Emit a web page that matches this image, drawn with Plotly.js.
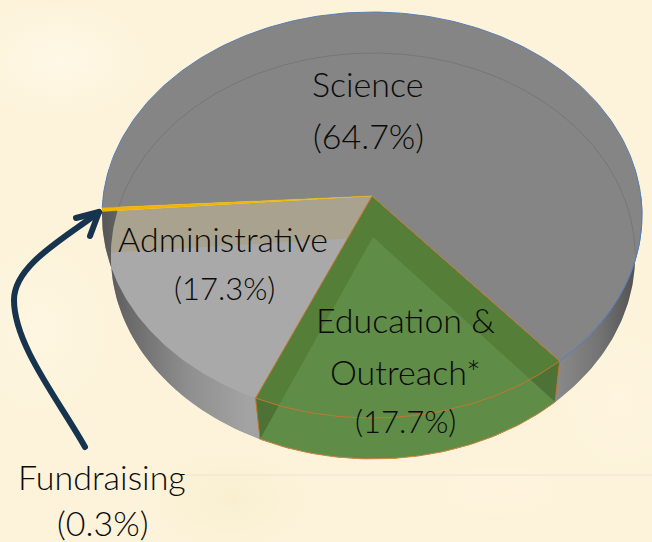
<!DOCTYPE html>
<html>
<head>
<meta charset="utf-8">
<script src="https://cdn.plot.ly/plotly-3.0.1.min.js"></script>
<style>
html,body{margin:0;padding:0;width:652px;height:542px;overflow:hidden;background-color:#fcf3da;
background-image:
 radial-gradient(ellipse 90px 60px at 60px 60px,#fff8e6 0%,rgba(255,248,230,0) 100%),
 radial-gradient(ellipse 70px 90px at 40px 330px,#fff6e2 0%,rgba(255,246,226,0) 100%),
 radial-gradient(ellipse 110px 50px at 500px 490px,#fff3dc 0%,rgba(255,243,220,0) 100%),
 radial-gradient(ellipse 80px 50px at 230px 500px,#f9efd0 0%,rgba(249,239,208,0) 100%),
 radial-gradient(ellipse 60px 80px at 620px 400px,#fff5e0 0%,rgba(255,245,224,0) 100%);}
#chart{width:652px;height:542px;}
.shapelayer path{stroke-linecap:round;stroke-linejoin:round;}
</style>
</head>
<body>
<div id="chart"></div>
<script>
// Data
var categories = ['Education & Outreach*', 'Administrative', 'Fundraising', 'Science'];
var shares = [17.7, 17.3, 0.3, 64.7];
var colors = {science:'#858585', admin:'#a9a9a9', adminBack:'#a8a28e', fund:'#f2b600',
              eduDark:'#557e39', eduWall:'#4d7236', eduLight:'#5f8c47', edge:'#c4762f', rim:'#5c80b4'};

// Perspective view of the disc
var startAngle = 139.6;
var tilt = 0.0936;
var topFace = {cx:372, cy:196, a:268.8, b:201.2};
var floorFace = {cx:373, cy:237, a:261, b:201.2};

function pt(f, deg){
  var t = deg*Math.PI/180, u = Math.sin(t), v = -Math.cos(t), w = 1 - tilt*v;
  return [f.cx + f.a*u/w, f.cy + f.b*v/w];
}
function arc(f, a0, a1){
  var out = [], n = Math.max(2, Math.ceil(Math.abs(a1-a0)));
  for (var i=0;i<=n;i++) out.push(pt(f, a0+(a1-a0)*i/n));
  return out;
}
var edges = [startAngle];
shares.forEach(function(s,i){ edges.push(edges[i] + s*3.6); });
function slice(f, i){ return [[f.cx,f.cy]].concat(arc(f, edges[i], edges[i+1])).concat([[f.cx,f.cy]]); }

function poly(name, pts, fill, line, lw){
  return {type:'scatter', mode:'lines', name:name, hoverinfo:'skip', showlegend:false,
    x:pts.map(function(p){return p[0];}), y:pts.map(function(p){return p[1];}),
    fill: fill ? 'toself' : 'none', fillcolor: fill || undefined,
    line:{color: line || 'rgba(0,0,0,0)', width: lw===undefined ? 0 : lw}};
}

var wallPts = arc(topFace, 82, 278).concat(arc(floorFace, 278, 82));
var wall = poly('Side wall', wallPts.concat([wallPts[0]]), '#999');
delete wall.fillcolor;
wall.fillgradient = {type:'horizontal', colorscale:[
  [0,'#565656'],[0.05,'#6a6a6a'],[0.16,'#8f8f8f'],[0.27,'#a3a3a3'],[0.5,'#a3a3a3'],
  [0.84,'#8a8a8a'],[0.92,'#747474'],[1,'#4c4c4c']]};

var apex = [topFace.cx, topFace.cy];
var traces = [
  poly('Administrative back', slice(topFace,1), colors.adminBack),
  poly('Administrative', slice(floorFace,1), colors.admin),
  wall,
  poly('Education & Outreach* body',
    [apex, pt(topFace,edges[0])].concat(arc(floorFace,edges[0],edges[1]))
      .concat([pt(topFace,edges[1]), apex]),
    colors.eduDark),
  poly('Education & Outreach* wall',
    arc(topFace,edges[0],edges[1]).concat(arc(floorFace,edges[1],edges[0])).concat([pt(topFace,edges[0])]),
    colors.eduWall),
  poly('Education & Outreach*', slice(floorFace,0), colors.eduLight),
  poly('Science', slice(topFace,3), colors.science),
  poly('Floor rim', arc(floorFace, 278, 455), null, '#777777', 1),
  poly('Rim', arc(topFace, edges[3], edges[4]), null, colors.rim, 1),
  poly('Rim right', arc(topFace, 90, edges[0]), null, colors.rim, 1),
  poly('Education edge', slice(topFace,0), null, colors.edge, 1),
  poly('Education wall edge L', [pt(topFace,edges[1]), pt(floorFace,edges[1])], null, colors.edge, 1),
  poly('Education wall edge R', [pt(topFace,edges[0]), pt(floorFace,edges[0])], null, colors.edge, 1),
  poly('Education floor arc', arc(floorFace, edges[0], edges[1]), null, '#d98a45', 1),
  poly('Fundraising', slice(topFace,2), colors.fund, colors.fund, 0.4)
];

function note(x,y,text,size){
  return {x:x,y:y,xref:'x',yref:'y',text:text,showarrow:false,align:'center',xanchor:'center',yanchor:'middle',
    font:{family:'Lato, "Open Sans", sans-serif', size:size||34, color:'#0a0a0a', weight:300}};
}

var layout = {
  width:652, height:542, margin:{l:0,r:0,t:0,b:0},
  paper_bgcolor:'rgba(0,0,0,0)', plot_bgcolor:'rgba(0,0,0,0)', showlegend:false,
  xaxis:{range:[0,652], visible:false, fixedrange:true},
  yaxis:{range:[542,0], visible:false, fixedrange:true},
  annotations:[
    note(368,83,'Science'), note(368,135,'(64.7%)'),
    note(223,238,'Administrative'), note(224,288,'(17.3%)',31),
    note(405,319,'Education &'), note(405,371,'Outreach*'), note(405,421,'(17.7%)',31),
    note(102,476,'Fundraising'), note(102,522,'(0.3%)')
  ],
  shapes:[
    {type:'line', xref:'x', yref:'y', x0:185, x1:652, y0:475, y1:475, layer:'below', line:{color:'#ece4d0', width:1}},
    {type:'path', xref:'x', yref:'y', layer:'above', line:{color:'#17344f', width:6},
     path:'M 85 447 C 60 402, 14 345, 14 300 C 14 265, 65 238, 99 212'},
    {type:'path', xref:'x', yref:'y', layer:'above', line:{color:'#17344f', width:6},
     path:'M 76 218 L 99 212 L 90 236'}
  ]
};
Plotly.newPlot('chart', traces, layout, {staticPlot:true, displayModeBar:false});
</script>
</body>
</html>
